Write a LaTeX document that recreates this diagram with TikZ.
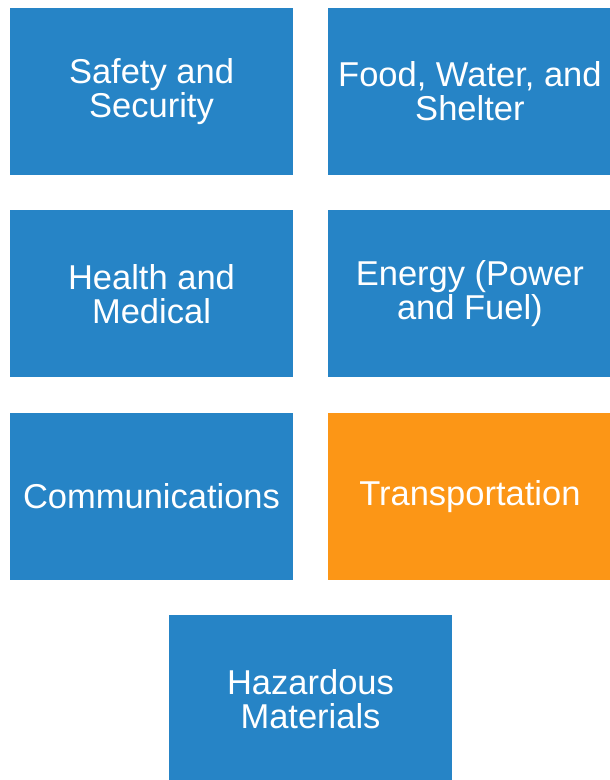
\documentclass[tikz,border=0pt]{standalone}
\usepackage{fontspec}
\setmainfont{Liberation Sans}
\usetikzlibrary{positioning}
\definecolor{areablue}{RGB}{38,132,198}
\definecolor{areaorange}{RGB}{252,150,22}
\tikzstyle{area}=[rectangle, fill=areablue, text=white, inner sep=0pt, minimum width=283pt, minimum height=167pt, align=center, font=\fontsize{34.5}{34}\selectfont, node distance=35pt]
\tikzstyle{hot}=[area, fill=areaorange]

\begin{document}
\begin{tikzpicture}
	\useasboundingbox (0,0) rectangle (610pt,-780pt);
	\node[area] (Safe) at (151.5pt,-91.5pt) {Safety and\\Security};
	\node[area] (Food) [right = of Safe] {Food, Water, and\\Shelter};
	\node[area] (Heal) [below = of Safe] {Health and\\Medical};
	\node[area] (Ener) [right = of Heal] {Energy (Power\\and Fuel)};
	\node[area] (Comm) [below = of Heal] {Communications};
	\node[hot] (Tran) [right = of Comm] {Transportation};
	\node[area] (Haz) [below = of Comm, xshift=159pt] {Hazardous\\Materials};
\end{tikzpicture}
\end{document}
